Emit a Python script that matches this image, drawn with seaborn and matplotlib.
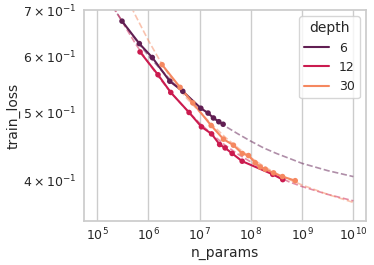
import numpy as np
import pandas as pd
import matplotlib.pyplot as plt
import seaborn as sns

depths = [6, 12, 30]

# measured runs
params_d6 = [3.08e5, 6.7e5, 1.2e6, 2.63e6, 4.72e6, 1.06e7, 1.47e7, 1.87e7, 2.38e7, 2.89e7]
loss_d6 = [0.675, 0.627, 0.599, 0.554, 0.536, 0.507, 0.499, 0.491, 0.485, 0.481]

params_d12 = [6.92e5, 1.55e6, 2.75e6, 6.26e6, 1.09e7, 1.72e7, 2.47e7, 3.16e7,
              4.33e7, 6.79e7, 2.68e8, 4.2e8]
loss_d12 = [0.610, 0.566, 0.534, 0.500, 0.477, 0.466, 0.450, 0.445,
            0.437, 0.426, 0.408, 0.401]

params_d30 = [1.86e6, 4.18e6, 7.39e6, 1.69e7, 2.93e7, 4.59e7, 6.79e7, 9.02e7,
              1.22e8, 1.53e8, 1.91e8, 2.78e8, 4.16e8, 7.36e8]
loss_d30 = [0.585, 0.543, 0.516, 0.479, 0.458, 0.449, 0.437, 0.434,
            0.424, 0.418, 0.415, 0.410, 0.405, 0.3996]

# fitted curves (dashed)
fit_exp = [5.0, 5.25, 5.5, 5.75, 6.0, 6.25, 6.5, 6.75, 7.0, 7.25, 7.5,
           7.75, 8.0, 8.25, 8.5, 8.75, 9.0, 9.25, 9.5, 9.75, 10.0]
fit_d6 = [0.766, 0.717, 0.674, 0.636, 0.603, 0.575, 0.550, 0.528, 0.509, 0.493, 0.478,
          0.466, 0.455, 0.445, 0.437, 0.430, 0.423, 0.418, 0.413, 0.409, 0.405]
fit_d12 = [0.780, 0.722, 0.672, 0.627, 0.589, 0.556, 0.528, 0.504, 0.483, 0.465, 0.449,
           0.436, 0.425, 0.415, 0.406, 0.398, 0.392, 0.387, 0.382, 0.378, 0.374]
fit_d30 = [0.890, 0.815, 0.748, 0.688, 0.634, 0.589, 0.552, 0.524, 0.501, 0.480, 0.461,
           0.445, 0.431, 0.419, 0.409, 0.401, 0.394, 0.388, 0.382, 0.377, 0.372]

runs = pd.concat([
    pd.DataFrame({"n_params": params_d6, "train_loss": loss_d6, "depth": 6}),
    pd.DataFrame({"n_params": params_d12, "train_loss": loss_d12, "depth": 12}),
    pd.DataFrame({"n_params": params_d30, "train_loss": loss_d30, "depth": 30}),
])
fit_x = 10 ** np.array(fit_exp)
fits = pd.concat([
    pd.DataFrame({"n_params": fit_x, "train_loss": fit_d6, "depth": 6}),
    pd.DataFrame({"n_params": fit_x, "train_loss": fit_d12, "depth": 12}),
    pd.DataFrame({"n_params": fit_x, "train_loss": fit_d30, "depth": 30}),
])

sns.set_theme(style="whitegrid")
plt.rcParams.update({
    "axes.labelsize": 10,
    "xtick.labelsize": 9,
    "ytick.labelsize": 9,
    "legend.fontsize": 9,
    "legend.title_fontsize": 10,
    "xtick.major.size": 0, "xtick.minor.size": 0,
    "ytick.major.size": 0, "ytick.minor.size": 0,
    "xtick.major.pad": 4, "xtick.minor.pad": 4,
    "ytick.major.pad": 5.5, "ytick.minor.pad": 5.5,
    "axes.labelpad": 2,
})
palette = dict(zip(depths, sns.color_palette("rocket", 3)))

fig, ax = plt.subplots(figsize=(3.74, 2.65), dpi=100)
sns.lineplot(data=fits, x="n_params", y="train_loss", hue="depth", palette=palette,
             linestyle="--", linewidth=1.2, alpha=0.5, legend=False, ax=ax)
sns.lineplot(data=runs, x="n_params", y="train_loss", hue="depth", palette=palette,
             linewidth=1.5, ax=ax)
sns.scatterplot(data=runs, x="n_params", y="train_loss", hue="depth", palette=palette,
                s=16, linewidth=0, legend=False, ax=ax, zorder=3)
ax.set_xscale("log")
ax.set_yscale("log")
ax.set_xlim(10 ** 4.75, 10 ** 10.25)
ax.set_ylim(0.35, 0.7)
ax.legend(title="depth", loc="upper right")
plt.subplots_adjust(left=0.225, right=0.979, top=0.962, bottom=0.166)
plt.savefig("out.png")
